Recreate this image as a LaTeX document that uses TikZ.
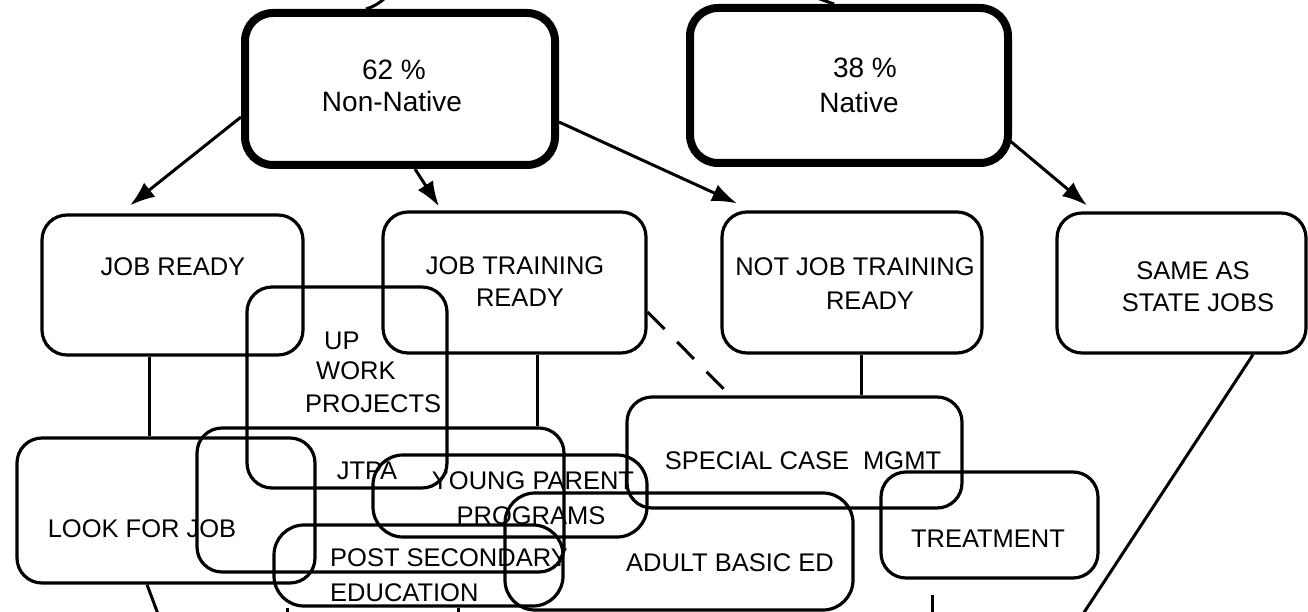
\documentclass[tikz,border=0pt]{standalone}
\usepackage{fontspec}
\setmainfont{Liberation Sans}
\usetikzlibrary{arrows.meta}
\begin{document}
\begin{tikzpicture}[x=1pt,y=-1pt,
  box/.style n args={2}{draw, rounded corners=25pt, line width=3.2pt, inner sep=0pt,
    minimum width=#1pt, minimum height=#2pt},
  pill/.style n args={2}{draw, rounded corners=30pt, line width=3.2pt, inner sep=0pt,
    minimum width=#1pt, minimum height=#2pt},
  bigbox/.style n args={2}{draw, rounded corners=28pt, line width=8pt, inner sep=0pt,
    minimum width=#1pt, minimum height=#2pt},
  lbl/.style={font=\fontsize{25.5}{30}\selectfont, anchor=base, inner sep=0pt},
  lblbig/.style={font=\fontsize{28}{32}\selectfont, anchor=base, inner sep=0pt},
  conn/.style={line width=3pt},
  arr/.style={line width=3pt, -{Latex[length=25pt,width=18pt]}},
  dashconn/.style={line width=3pt, dash pattern=on 24pt off 18pt},
]
\useasboundingbox (0,0) rectangle (1308,612);

% top level boxes
\node[bigbox={310}{152}] (A) at (400,89) {};
\node[bigbox={318}{155}] (B) at (849,85.5) {};
\node[lblbig] (tA1) at (394,80) {62 \%};
\node[lblbig] (tA2) at (392,112) {Non-Native};
\node[lblbig] (tB1) at (865,78) {38 \%};
\node[lblbig] (tB2) at (859,113) {Native};

% second row
\node[box={261}{140}] (C) at (172.5,285) {};
\node[box={263}{141}] (D) at (514.5,282.5) {};
\node[box={260}{141}] (E) at (852,282.5) {};
\node[box={249}{140}] (F) at (1181.5,283) {};
\node[lbl] (tC) at (173,276) {JOB READY};
\node[lbl] (tD1) at (515,274) {JOB TRAINING};
\node[lbl] (tD2) at (520,306) {READY};
\node[lbl] (tE1) at (855,276) {NOT JOB TRAINING};
\node[lbl] (tE2) at (870,309) {READY};
\node[lbl] (tF1) at (1193,279) {SAME AS};
\node[lbl] (tF2) at (1198,311) {STATE JOBS};

% third row
\node[box={200}{201}] (G) at (347,387.5) {};
\node[lbl, anchor=base west] (tG1) at (324,349) {UP};
\node[lbl, anchor=base west] (tG2) at (316,379) {WORK};
\node[lbl, anchor=base west] (tG3) at (305,412) {PROJECTS};

\node[box={298}{145}] (H) at (166,510.5) {};
\node[lbl] (tH) at (142,537) {LOOK FOR JOB};

\node[box={367}{144}] (I) at (380.5,500) {};
\node[lbl] (tI) at (367,479) {JTPA};

\node[pill={274}{82}] (J) at (510,496) {};
\node[lbl] (tJ1) at (533,489) {YOUNG PARENT};
\node[lbl] (tJ2) at (531,524) {PROGRAMS};

\node[box={335}{111}] (K) at (794.5,452.5) {};
\node[lbl] (tK) at (803,469) {SPECIAL CASE~~MGMT};

\node[pill={348}{117}] (L) at (679,551.5) {};
\node[lbl] (tL) at (730,571) {ADULT BASIC ED};

\node[box={217}{106}] (M) at (989.5,525) {};
\node[lbl] (tM) at (988,547) {TREATMENT};

\node[pill={289}{81}] (N) at (418.5,565.5) {};
\node[lbl, anchor=base west] (tN1) at (330,566) {POST SECONDARY};
\node[lbl, anchor=base west] (tN2) at (330,601) {EDUCATION};

% arrows from the top boxes
\draw[arr] ([yshift=-28pt]A.west) -- ([xshift=-42.5pt,yshift=8pt]C.north);
\draw[arr] ([xshift=15pt]A.south) -- ([xshift=-75.5pt,yshift=4pt]D.north);
\draw[arr] ([yshift=-33pt]A.east) -- ([xshift=-115pt,yshift=7pt]E.north);
\draw[arr] ([xshift=-3pt,yshift=-54.5pt]B.east) -- ([xshift=-94.5pt,yshift=6pt]F.north);

% stubs entering from above
\coordinate (inA) at (385,-2);
\coordinate (inB) at (817,-2);
\draw[conn] (inA) to[bend left=12] ([xshift=-34pt]A.north);
\draw[conn] (inB) -- ([xshift=-15pt]B.north);

% connectors second row -> third row
\draw[conn] ([xshift=-23.5pt]C.south) -- ([xshift=-17pt]H.north);
\draw[conn] ([xshift=22.5pt]D.south) -- ([xshift=156.5pt]I.north);
\draw[conn] ([xshift=9pt]E.south) -- ([xshift=66.5pt]K.north);
\draw[dashconn] ([yshift=-29.5pt]D.east) -- ([xshift=-66.5pt,yshift=2pt]K.north);

% connectors leaving at the bottom
\coordinate (outH) at (158,614);
\coordinate (outF) at (1083,614);
\coordinate (topM) at (932,595);
\coordinate (outM) at (932,614);
\coordinate (outN1) at (287,614);
\coordinate (outN2) at (458,614);
\draw[conn] ([xshift=-19pt]H.south) -- (outH);
\draw[conn] ([xshift=71.5pt]F.south) -- (outF);
\draw[conn] (topM) -- (outM);
\draw[conn] ([xshift=-131.5pt]N.south) -- (outN1);
\draw[conn] ([xshift=39.5pt]N.south) -- (outN2);
\end{tikzpicture}
\end{document}
